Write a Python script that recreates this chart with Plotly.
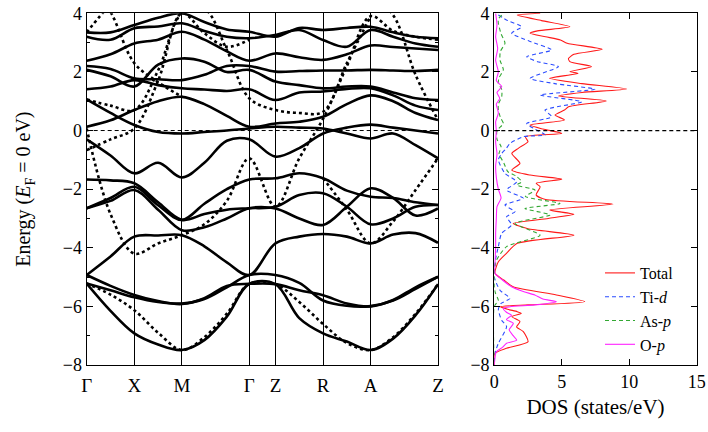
import plotly.graph_objects as go

# ---------------- data ----------------
k_labels = ["Γ", "X", "M", "Γ", "Z", "R", "A", "Z"]
k_sym = [0.0, 1.0, 2.0, 3.414, 3.964, 4.964, 5.964, 7.378]
# sample points along the path (high-symmetry points and segment midpoints)
k_path = [0.0, 0.5, 1.0, 1.5, 2.0, 2.471, 2.943, 3.414,
          3.964, 4.464, 4.964, 5.464, 5.964, 6.435, 6.907, 7.378]

N = None
# energies (eV) read at k_path
solid_bands = [
    [-5.22, -6.15, -6.92, -7.30, -7.49, -7.15, -6.35, -5.23, -5.24, -6.40, -6.92, -7.20, -7.49, -7.10, -6.30, -5.24],
    [-5.22, -5.45, -5.69, -5.85, -5.90, -5.75, -5.35, -4.93, -4.93, -5.20, -5.80, -5.98, -5.99, -5.80, -5.40, -4.99],
    [-4.93, -5.30, -5.61, -5.82, -5.92, -5.72, -5.30, -5.23, -5.24, -5.45, -5.62, -5.90, -6.00, -5.78, -5.35, -4.99],
    [-4.93, -4.30, -3.62, -3.58, -3.57, -3.95, -4.50, -4.93, -3.85, -3.62, -3.53, -3.62, -3.85, -3.55, -3.50, -3.83],
    [-1.67, -1.70, -1.80, -2.45, -3.05, -2.85, -2.70, -2.65, -2.60, -2.20, -2.14, -2.60, -3.20, -3.00, -2.60, -2.54],
    [-2.65, -2.30, -1.92, -2.55, -3.05, -2.50, -2.00, -1.67, -1.63, -1.46, -1.63, -2.05, -2.26, -2.30, -2.45, -2.54],
    [-2.65, -2.40, -2.03, -2.70, -3.40, -3.30, -3.00, -2.65, -2.66, -3.00, -3.22, -2.60, -1.97, -2.30, -2.90, -2.66],
    [-0.30, -0.85, -1.46, -1.10, -1.60, -1.10, -0.35, -0.30, -0.89, -0.60, -0.10, 0.10, 0.20, 0.10, 0.00, -0.10],
    [1.06, 0.60, 0.19, -0.05, -0.10, -0.05, 0.00, 0.07, 0.13, 0.10, 0.07, -0.10, -0.27, -0.10, -0.50, -0.95],
    [0.13, 0.35, 0.70, 1.00, 1.15, 0.90, 0.50, 0.13, 0.24, 0.30, 0.47, 0.90, 1.20, 1.00, 0.60, 0.36],
    [1.41, 1.50, 1.72, 1.55, 1.44, 1.40, 1.35, 1.41, 1.04, 1.30, 1.33, 1.42, 1.44, 1.20, 0.85, 0.70],
    [2.07, 1.85, 1.50, 2.25, 2.46, 2.35, 2.00, 2.07, 1.67, 1.55, 1.44, 1.50, 1.50, 1.30, 1.10, 1.04],
    [2.20, 2.10, 1.78, 1.75, 1.72, 1.90, 2.20, 2.20, 2.01, 2.03, 2.05, 2.05, 2.07, 2.05, 2.03, 2.07],
    [2.38, 2.60, 2.97, 3.10, 3.37, 3.10, 2.70, 2.38, 2.63, 2.50, 2.41, 2.60, 2.90, 2.85, 2.80, 2.75],
    [3.20, 3.10, 3.49, 3.55, 3.66, 3.40, 3.20, 3.15, 3.26, 3.43, 3.09, 2.86, 3.43, 3.20, 2.97, 2.86],
    [3.35, 3.35, 3.60, 3.85, 4.00, 3.70, 3.45, 3.37, 3.20, 3.50, 3.43, 3.50, 3.54, 3.35, 3.20, 3.15],
]
dotted_bands = [
    [-5.22, -5.60, -6.13, -6.90, -7.49, -7.05, -6.25, -5.23, -5.24, -5.85, -6.60, -7.25, -7.49, -7.05, -6.25, -5.24],
    [0.07, -2.85, -4.20, -3.85, -3.57, -3.20, -2.40, -0.95, -2.60, -0.95, 0.40, 2.20, 3.90, 3.40, 3.20, 3.10],
    [-0.67, -0.30, 0.07, 1.70, 4.00, 3.32, 2.86, 3.10, N, N, N, N, N, N, N, N],
    [1.06, 0.85, 0.70, 2.05, 4.00, 4.15, 2.75, 1.10, 0.70, 0.60, 0.64, 2.30, 3.90, N, N, N],
    [5.20, 4.05, 2.30, 1.65, 1.15, N, N, N, N, N, N, N, N, N, N, N],
    [3.35, 4.30, 5.00, N, N, N, N, N, N, N, N, N, N, N, N, N],
    [N, N, N, N, N, N, N, N, N, N, N, N, 4.60, 3.94, 1.90, 0.36],
    [N, N, N, N, N, N, N, N, N, N, -1.63, -2.70, -3.85, -3.10, -2.03, -0.95],
]

# DOS (states/eV) read against energy (eV)
tot_E = [4.0, 3.94, 3.75, 3.54, 3.4, 3.32, 3.2, 3.09, 2.98, 2.77, 2.6, 2.46, 2.35, 2.18, 2.01, 1.95, 1.78, 1.6,
         1.42, 1.3, 1.18, 1.01, 0.81, 0.7, 0.53, 0.36, 0.19, 0.05, -0.1, -0.21, -0.38, -0.6, -0.78, -1.12,
         -1.35, -1.52, -1.66, -1.8, -1.92, -2.2, -2.35, -2.51, -2.71, -2.86, -3.0, -3.17, -3.35, -3.57,
         -3.85, -4.19, -4.48, -4.87, -5.1, -5.33, -5.61, -5.84, -5.95, -6.01, -6.1, -6.18, -6.24, -6.35,
         -6.52, -6.7, -6.86, -7.21, -7.43, -7.6, -8.0]
tot_D = [3.4, 1.7, 3.5, 5.6, 3.2, 2.65, 3.8, 4.9, 5.4, 8.0, 5.9, 5.5, 5.6, 7.2, 5.6, 6.2, 4.1, 6.5, 9.8, 6.5,
         4.75, 8.3, 5.5, 5.2, 4.5, 5.2, 2.65, 3.6, 5.0, 2.3, 2.5, 1.8, 1.3, 1.9, 1.3, 2.65, 5.0, 3.1, 3.4,
         3.1, 3.8, 8.8, 4.1, 5.9, 4.0, 1.4, 2.5, 5.9, 1.7, 0.9, 0.3, 0.05, 0.7, 1.4, 4.6, 6.7, 2.5, 0.45,
         1.0, 1.7, 2.0, 1.3, 1.9, 1.65, 2.15, 2.5, 0.9, 0.05, 0.0]
ti_E = [3.94, 3.75, 3.54, 3.32, 3.05, 2.75, 2.52, 2.35, 2.18, 1.78, 1.6, 1.41, 1.21, 0.98, 0.7, 0.47, 0.24,
        0.05, -0.15, -0.21, -0.44, -0.6, -0.78, -1.0, -1.46, -1.75, -2.03, -2.31, -2.54, -2.77, -2.94,
        -3.22, -3.51, -3.96, -4.5, -5.0, -5.45, -5.73, -5.9, -6.1, -6.47, -6.69, -7.26, -7.6, -8.0]
ti_D = [0.3, 1.0, 2.03, 1.29, 2.6, 4.25, 2.4, 3.2, 4.75, 2.65, 4.5, 7.46, 3.39, 6.48, 3.76, 4.25, 2.4, 3.0,
        3.76, 2.15, 1.16, 0.9, 0.55, 0.3, 0.79, 1.66, 0.91, 2.15, 0.79, 1.53, 0.91, 1.28, 0.54, 0.3, 0.05,
        0.0, 0.42, 1.16, 0.5, 0.3, 0.54, 0.91, 0.3, 0.05, 0.0]
as_E = [3.94, 3.8, 3.66, 3.3, 2.98, 2.7, 2.41, 2.07, 1.8, 1.61, 1.4, 1.16, 0.9, 0.7, 0.45, 0.24, 0.0, -0.3,
        -0.55, -0.8, -1.1, -1.4, -1.55, -1.75, -1.86, -2.03, -2.25, -2.49, -2.66, -2.88, -3.17, -3.57,
        -3.96, -4.42, -4.8, -5.5, -5.8, -6.0, -8.0]
as_D = [0.55, 0.3, 0.3, 0.5, 0.79, 0.45, 0.42, 0.67, 0.35, 0.3, 0.55, 0.55, 0.3, 0.3, 0.45, 0.67, 0.2, 0.2,
        0.5, 0.35, 0.7, 1.0, 1.6, 2.03, 1.66, 3.02, 2.3, 4.87, 2.27, 4.13, 1.53, 3.39, 0.91, 0.17, 0.0,
        0.05, 0.3, 0.0, 0.0]
op_E = [4.0, 3.6, 3.2, 2.8, 2.4, 2.0, 1.7, 1.5, 1.3, 1.1, 0.9, 0.6, 0.3, 0.0, -0.4, -0.8, -1.2, -1.6, -2.0,
        -2.3, -2.6, -3.0, -3.5, -4.0, -4.5, -4.87, -5.1, -5.33, -5.5, -5.61, -5.75, -5.84, -5.95, -6.01,
        -6.07, -6.2, -6.3, -6.45, -6.58, -6.8, -7.0, -7.15, -7.26, -7.4, -7.55, -8.0]
op_D = [0.1, 0.2, 0.1, 0.25, 0.1, 0.3, 0.15, 0.55, 0.2, 0.4, 0.15, 0.3, 0.1, 0.15, 0.1, 0.2, 0.1, 0.15, 0.3,
        0.5, 0.2, 0.15, 0.1, 0.1, 0.05, 0.05, 0.6, 1.28, 2.2, 3.0, 3.6, 4.6, 3.0, 1.16, 0.67, 0.9, 1.28,
        0.9, 1.41, 1.1, 1.4, 1.66, 0.91, 0.6, 0.15, 0.0]

# ---------------- figure ----------------
FONT = "Liberation Serif"
fig = go.Figure()

for b in solid_bands:
    fig.add_trace(go.Scatter(x=k_path, y=b, mode="lines", showlegend=False, hoverinfo="skip",
                             line=dict(color="black", width=2.6, shape="spline", smoothing=1.0),
                             xaxis="x", yaxis="y"))
for b in dotted_bands:
    fig.add_trace(go.Scatter(x=k_path, y=b, mode="lines", showlegend=False, hoverinfo="skip",
                             connectgaps=False,
                             line=dict(color="black", width=2.6, dash="dot", shape="spline", smoothing=1.0),
                             xaxis="x", yaxis="y"))

dos_series = [
    ("Total", tot_D, tot_E, "#ff1a1a", "solid"),
    ("Ti-<i>d</i>", ti_D, ti_E, "#2b4cff", "4px,3px"),
    ("As-<i>p</i>", as_D, as_E, "#33a833", "4px,3px"),
    ("O-<i>p</i>", op_D, op_E, "#ff22ff", "solid"),
]
for name, d, e, c, dash in dos_series:
    fig.add_trace(go.Scatter(x=d, y=e, mode="lines", name=name, hoverinfo="skip",
                             line=dict(color=c, width=1.1, dash=dash, shape="spline", smoothing=0.6),
                             xaxis="x2", yaxis="y2"))

ydom = [1 - 365 / 432, 1 - 13.3 / 432]
tickfont = dict(family=FONT, size=18, color="black")
common_y = dict(range=[-8, 4], dtick=2, ticks="inside", ticklen=6, tickwidth=1, tickcolor="black",
                showline=True, linecolor="black", linewidth=1.2, mirror="ticks", zeroline=False,
                showgrid=False, tickfont=tickfont, domain=ydom, automargin=False)

fig.update_layout(
    width=708, height=432, margin=dict(l=0, r=0, t=0, b=0, autoexpand=False),
    paper_bgcolor="white", plot_bgcolor="white",
    font=dict(family=FONT, color="black"),
    xaxis=dict(domain=[86.7 / 708, 438 / 708], range=[0, 7.378], tickvals=k_sym, ticktext=k_labels,
               ticks="", showgrid=True, gridcolor="black", gridwidth=1, showline=True, linecolor="black",
               linewidth=1.2, mirror=True, zeroline=False, tickfont=dict(family=FONT, size=19, color="black"),
               ticklabelstandoff=3, automargin=False),
    yaxis=dict(**common_y, anchor="x",
               minor=dict(dtick=1, ticks="inside", ticklen=3, tickcolor="black"),
               title=dict(text="Energy (<i>E</i><sub>F</sub> = 0 eV)", font=dict(family=FONT, size=20),
                          standoff=26)),
    xaxis2=dict(domain=[494.3 / 708, 696.7 / 708], range=[0, 15], dtick=5, ticks="inside", ticklen=6,
                tickcolor="black", showline=True, linecolor="black", linewidth=1.2, mirror="ticks",
                zeroline=False, showgrid=False, tickfont=tickfont, anchor="y2", automargin=False,
                title=dict(text="DOS (states/eV)", font=dict(family=FONT, size=21), standoff=8)),
    yaxis2=dict(**common_y, anchor="x2"),
    legend=dict(xref="paper", yref="paper", x=600 / 708, y=1 - 256 / 432, xanchor="left", yanchor="top",
                bgcolor="rgba(0,0,0,0)", font=dict(family=FONT, size=16), tracegroupgap=0, itemwidth=30),
    shapes=[
        dict(type="line", xref="x domain", yref="y", x0=0, x1=1, y0=0, y1=0,
             line=dict(color="black", width=1, dash="4px,3px")),
        dict(type="line", xref="x2 domain", yref="y2", x0=0, x1=1, y0=0, y1=0,
             line=dict(color="black", width=1.3, dash="4px,3px")),
    ],
)

fig.write_html("out.html")
